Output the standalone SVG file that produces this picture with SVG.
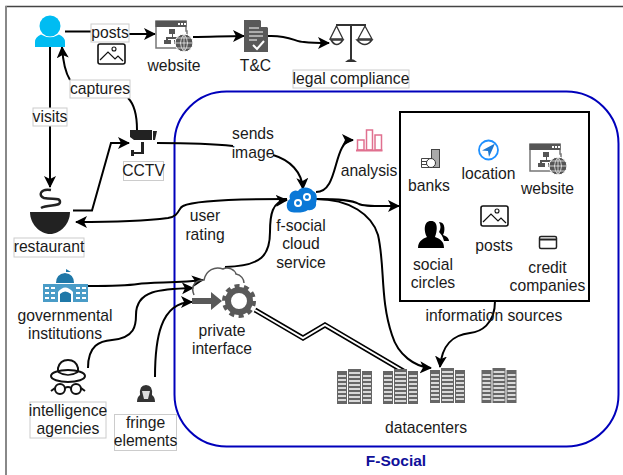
<svg xmlns="http://www.w3.org/2000/svg" xmlns:xlink="http://www.w3.org/1999/xlink" width="623" height="475" viewBox="0 0 623 475">
<style>
text{font-family:"Liberation Sans",Arial,sans-serif;font-size:15.700px;fill:#1a1a1a;text-anchor:middle}
.c{fill:none;stroke:#000;stroke-width:2;marker-end:url(#a)}
.n{fill:none;stroke:#000;stroke-width:2}
.lb{fill:#fff;stroke:#ccc;stroke-width:1}
.g{fill:#595959}
.w{fill:#fff}
</style>
<defs>
<marker id="a" markerUnits="userSpaceOnUse" markerWidth="14" markerHeight="14" refX="11" refY="6" orient="auto"><path d="M0 0L12 6L0 12L3 6Z" fill="#000"/></marker>
<g id="web">
<path d="M1 0H31V10H32V16H28V27H1Z" fill="#fff" stroke="#777" stroke-width="1.500"/>
<rect x="0.500" y="0" width="31" height="6" fill="#555"/>
<rect x="23" y="2" width="2" height="2" fill="#fff"/><rect x="26" y="2" width="2" height="2" fill="#fff"/><rect x="29" y="2" width="2" height="2" fill="#fff"/>
<path d="M14 8h6v5h-2v3h6v3h2v4h-7v-4h3v-1h-9v1h3v4h-7v-4h2v-3h6v-3h-3Z" fill="#555"/>
<circle cx="29" cy="22" r="9" fill="#555" stroke="#fff"/>
<path d="M20 22h18M29 13v18M22 17h14M22 27h14M29 13q-7 9 0 18M29 13q7 9 0 18" fill="none" stroke="#fff" stroke-width=".7"/>
</g>
<g id="img">
<rect x="1" y="1" width="27" height="20" rx="2" fill="#fff" stroke="#111" stroke-width="1.600"/>
<path d="M3 17L11 9L18 16L21 13L26 18" fill="none" stroke="#111" stroke-width="1.200"/>
<circle cx="17" cy="6" r="2" fill="none" stroke="#111" stroke-width="1.100"/>
</g>
<g id="srv" fill="#666">
<rect x="0" y="2" width="10" height="33"/><rect x="11" y="0" width="13" height="35"/><rect x="25" y="2" width="10" height="33"/>
<path d="M1 7h8M1 11h8M1 15h8M1 19h8M1 23h8M1 27h8M1 31h8M12 4h11M12 8h11M12 12h11M12 16h11M12 20h11M12 24h11M12 28h11M12 32h11M26 7h8M26 11h8M26 15h8M26 19h8M26 23h8M26 27h8M26 31h8" stroke="#fff" stroke-width="1.600" fill="none"/>
</g>
</defs>
<path d="M6 475V6.500H623" fill="none" stroke="#444" stroke-width="1.500"/>
<path d="M6 6V475" stroke="#888" stroke-width="2"/>
<rect id="f-social-boundary" x="174.500" y="91.500" width="444" height="355" rx="52" fill="none" stroke="#0000bb" stroke-width="2"/>
<text x="396" y="466" style="font-weight:bold;font-size:15.500px;fill:#10109a">F-Social</text>

<g id="connectors">
<path class="n" d="M65 31.500H92"/>
<path class="c" d="M129 34H155"/>
<path class="c" d="M193 37C210 37 225 36 244 36"/>
<path class="c" d="M268 36C290 35 295 42 304 42C312 43 320 43 329 43"/>
<path class="c" d="M50 47V187"/>
<path class="n" d="M137 130C137 110 132 102 128 98"/>
<path class="c" d="M70 80C65 72 63 62 62 47"/>
<path class="c" d="M73 210.500H92L111 143H129"/>
<path class="n" d="M157 143C190 143 215 144 233 146"/>
<path class="c" d="M273 155C290 160 302 172 303 189"/>
<path class="c" d="M287 199C250 199 195 200 183 206C178 208 180 216 168 218C145 221 110 222 76 222"/>
<path class="c" d="M316 192C340 192 332 140 353 140"/>
<path class="c" d="M316 199C340 199 352 200 359 204C365 207 385 206 399 206"/>
<path class="c" d="M316 199C350 199 372 215 378 235C385 265 380 300 392 335C398 355 415 367 431 368"/>
<path class="c" d="M225 267C262 266 270 255 270 232C270 215 272 201 287 200"/>
<path class="c" d="M88 286C110 286 125 286 138 284C150 282 180 283 203 280"/>
<path class="c" d="M88 368C88 345 100 341 112 340C135 338 136 325 136 315C136 290 160 289 193 288"/>
<path class="c" d="M155 377C155 340 160 302 192 302"/>
<path class="c" d="M495 301C495 325 480 332 470 333C452 335 442 345 440 367"/>
<path d="M255 310L303 338L325 325L405 372" fill="none" stroke="#000" stroke-width="5"/>
<path d="M255 310L303 338L325 325L405 372" fill="none" stroke="#fff" stroke-width="2"/>
</g>

<g id="user">
<circle cx="50" cy="26" r="10.500" fill="#00bcf2"/>
<path d="M35 47V42Q35 37 41 34.500Q50 40 59 34.500Q65 37 65 42V47Z" fill="#00bcf2"/>
</g>
<g id="post-image"><use xlink:href="#img" href="#img" x="97" y="43"/></g>
<g id="posts-label"><rect class="lb" x="91" y="24" width="38" height="18"/><text x="110" y="38">posts</text></g>
<g id="website-node"><use xlink:href="#web" href="#web" x="155" y="21"/><text x="174" y="71">website</text></g>
<g id="tc">
<path d="M244 20H260L268 28V52H244Z" class="g"/>
<path d="M249 28h10M249 32h14M249 36h14M249 40h8" stroke="#fff" fill="none"/>
<path d="M253 45L257 49L264 41" stroke="#fff" stroke-width="2" fill="none"/>
<path d="M261 20L268 27H261Z" fill="#fff"/>
<text x="255.500" y="71">T&amp;C</text>
</g>
<g id="legal">
<path d="M330 39H343L336.500 26ZM358 39H372L365 26Z" fill="none" stroke="#333" stroke-width="1.300"/>
<path d="M331 40Q336.500 49 343 40ZM357 40Q365 49 372 40Z" fill="none" stroke="#333" stroke-width="1.500"/>
<path d="M336 25H366M351 24V60" stroke="#333" stroke-width="2" fill="none"/>
<path d="M345 62Q351 56 357 62Z" fill="#333"/>
<rect class="lb" x="293" y="70" width="116" height="18"/><text x="351" y="84">legal compliance</text>
</g>
<g id="visits-label"><rect class="lb" x="33" y="108" width="34" height="18"/><text x="50" y="122">visits</text></g>
<g id="captures-label"><rect class="lb" x="70" y="80" width="60" height="18"/><text x="100" y="94">captures</text></g>
<g id="cctv">
<path d="M130 130H152V140H134L130 137ZM153 131H157L155 140H153Z" fill="#222"/>
<path d="M141 142H144V154H134V156H131V150H134V152H141Z" fill="#222"/>
<rect class="lb" x="123.500" y="161.500" width="40" height="19"/><text x="143.500" y="176">CCTV</text>
</g>
<g id="restaurant">
<path d="M51 190C40 188 38 196 44 198C52 200 60 197 60 202C60 207 48 204 41 208" fill="none" stroke="#222" stroke-width="2.500"/>
<path d="M30 212H70C70 224 60 234 50 234C40 234 30 224 30 212Z" fill="#222"/>
<rect class="lb" x="14" y="238" width="70" height="19"/><text x="49" y="252">restaurant</text>
</g>
<g id="gov">
<path d="M56 283Q56 274 65 273Q74 274 74 283Z" fill="#1f78a8"/>
<path d="M66 269L71 272L66 272Z" fill="#1f78a8"/>
<rect x="43" y="284" width="45" height="18" fill="#4a9cc7"/>
<path d="M45 287h4v2h-4zM51 287h4v2h-4zM45 292h4v2h-4zM51 292h4v2h-4zM45 297h4v2h-4zM51 297h4v2h-4zM76 287h4v2h-4zM82 287h4v2h-4zM76 292h4v2h-4zM82 292h4v2h-4zM76 297h4v2h-4zM82 297h4v2h-4z" fill="#fff"/>
<path d="M58 302V292Q65 283 73 292V302H69V294H62V302Z" fill="#fff"/>
<path d="M60 302V294Q65 289 71 294V302Z" fill="#1f78a8"/>
<text x="65" y="321">governmental</text><text x="65" y="339">institutions</text>
</g>
<g id="intelligence">
<path d="M58 376V368Q60 360 68 360Q76 360 78 368V376" fill="#fff" stroke="#111" stroke-width="2"/>
<ellipse cx="68" cy="376" rx="17" ry="6" fill="#fff" stroke="#111" stroke-width="2"/>
<path d="M58 372Q68 378 78 372" fill="none" stroke="#111" stroke-width="1.500"/>
<circle cx="60" cy="389" r="5" fill="#fff" stroke="#111" stroke-width="2"/><circle cx="76" cy="389" r="5" fill="#fff" stroke="#111" stroke-width="2"/>
<path d="M51 391L55 388M65 388Q68 386 71 388M81 388L85 391" stroke="#111" stroke-width="2" fill="none"/>
<rect class="lb" x="30" y="402" width="76" height="36"/><text x="68" y="416">intelligence</text><text x="68" y="434">agencies</text>
</g>
<g id="fringe">
<path d="M137 402Q137 397 140 395Q139 385 146 385Q153 385 152 395Q155 397 155 402Z" fill="#333"/>
<path d="M142 391H150L148 399H144Z" fill="#ddd"/>
<rect class="lb" x="114.500" y="414.500" width="62" height="36"/><text x="145.500" y="428">fringe</text><text x="145.500" y="446">elements</text>
</g>
<g id="private-interface">
<path d="M194 295C190 285 196 280 204 280C206 270 215 266 223 269C228 266 235 270 236 274C241 275 244 279 244 283" fill="none" stroke="#595959" stroke-width="1.500"/>
<path d="M192 298H211V292L222 301L211 310V304H192Z" class="g"/>
<circle cx="239" cy="301" r="11" fill="none" stroke="#595959" stroke-width="6"/>
<circle cx="239" cy="301" r="15" fill="none" stroke="#595959" stroke-width="4" stroke-dasharray="5 4.400"/>
<text x="222" y="336">private</text><text x="222" y="354">interface</text>
</g>
<g id="f-social-cloud">
<path d="M291 212C285 210 286 201 290 199C288 193 294 189 298 191C302 186 310 187 313 191C318 193 317 200 316 203C317 208 312 211 308 210C304 213 296 213 291 212Z" fill="#0a78d7"/>
<circle cx="298" cy="203" r="3" fill="none" stroke="#fff" stroke-width="2"/><circle cx="307" cy="197" r="3" fill="none" stroke="#fff" stroke-width="2"/>
<text x="301" y="231">f-social</text><text x="301" y="249">cloud</text><text x="301" y="268">service</text>
</g>
<g id="user-rating"><text x="205" y="221">user</text><text x="205" y="240">rating</text></g>
<g id="sends-image"><text x="253" y="139">sends</text><text x="253" y="158">image</text></g>
<g id="analysis">
<path d="M357.500 150V140H364V150ZM366.500 150V130H372.500V150ZM375 150V135H381.500V150Z" fill="none" stroke="#e0708f" stroke-width="1.500"/>
<path d="M356 150.500H382.500" stroke="#e0708f" stroke-width="2"/>
<text x="369" y="176">analysis</text>
</g>
<g id="information-sources">
<rect x="400" y="112" width="189" height="189" fill="#fff" stroke="#000" stroke-width="2"/>
<text x="494" y="321">information sources</text>
<g id="banks">
<path d="M421.500 158.500H434V167.500H421.500ZM421.500 161.500H432M421.500 164.500H432" fill="#fff" stroke="#444"/>
<rect x="431.500" y="149.500" width="8" height="18" fill="#aaa" stroke="#444"/>
<circle cx="431" cy="163" r="4.500" fill="#fff" stroke="#333"/>
<text x="429" y="191">banks</text>
</g>
<g id="location">
<circle cx="488.500" cy="150" r="9.500" fill="#fff" stroke="#1e90ff" stroke-width="1.800"/>
<path d="M495 143.500L482 150.500L488 151L489 157Z" fill="#1e78d0"/>
<text x="488.500" y="179">location</text>
</g>
<g id="website-source"><use xlink:href="#web" href="#web" x="529" y="144"/><text x="547.500" y="194">website</text></g>
<g id="posts-source"><use xlink:href="#img" href="#img" x="480" y="205"/><text x="494" y="251">posts</text></g>
<g id="social-circles">
<path d="M418 248C418 240 425 238 427 237C424 232 423 221 431 221C439 221 437 232 435 237C440 239 444 241 444 248Z" fill="#000"/>
<path d="M439 222C446 222 445 232 443 235C446 236 449 238 449 241H444C443 236 440 233 439 232C441 229 441 225 439 222Z" fill="#000"/>
<text x="433" y="270">social</text><text x="433" y="288">circles</text>
</g>
<g id="credit">
<rect x="539.500" y="236.500" width="17" height="12" rx="1.500" fill="#fff" stroke="#222" stroke-width="1.500"/>
<path d="M540 239.500H556" stroke="#222" stroke-width="2"/>
<text x="547.500" y="273">credit</text><text x="547.500" y="291">companies</text>
</g>
</g>
<g id="datacenters">
<use xlink:href="#srv" href="#srv" x="337" y="369"/>
<use xlink:href="#srv" href="#srv" x="383" y="369"/>
<use xlink:href="#srv" href="#srv" x="430" y="368"/>
<use xlink:href="#srv" href="#srv" x="481.500" y="368"/>
<text x="426" y="433">datacenters</text>
</g>
</svg>
